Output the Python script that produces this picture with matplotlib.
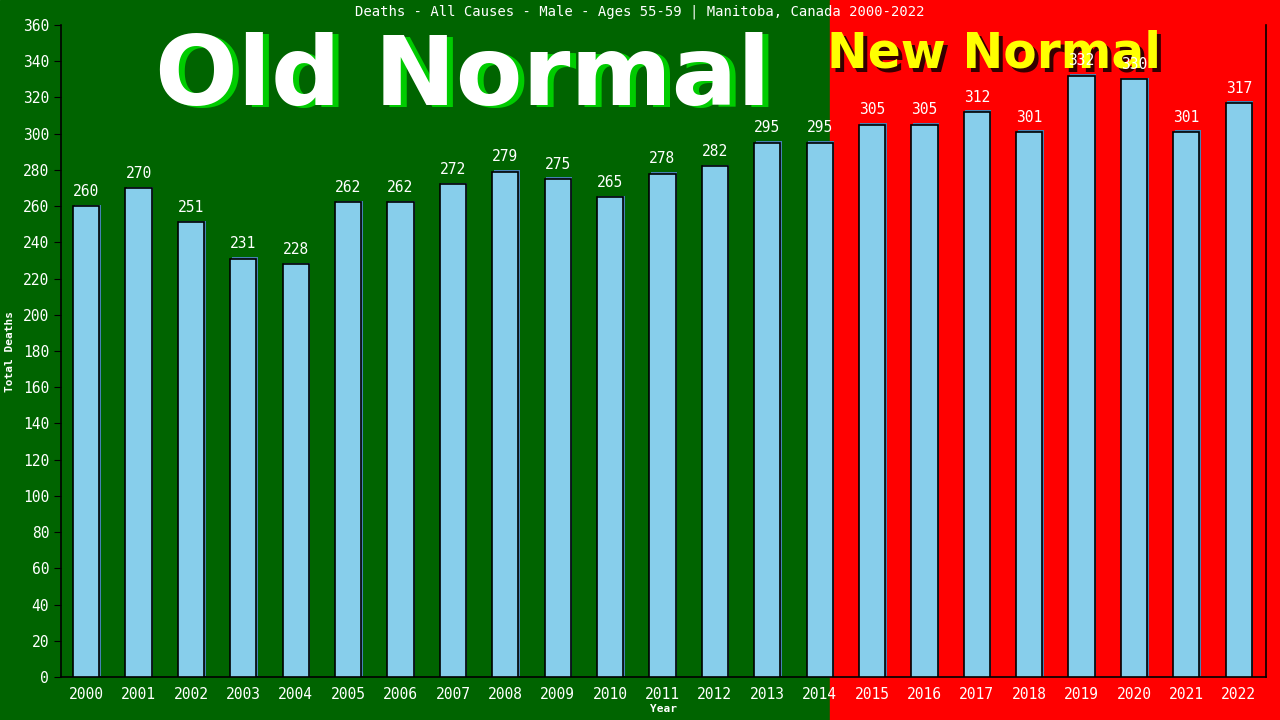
import matplotlib
matplotlib.use("Agg")
import matplotlib.pyplot as plt
import matplotlib.transforms as mtransforms
from matplotlib.patches import Rectangle

# data
years = [str(y) for y in range(2000, 2023)]
deaths = [260, 270, 251, 231, 228, 262, 262, 272, 279, 275, 265, 278,
          282, 295, 295, 305, 305, 312, 301, 332, 330, 301, 317]
yticks = list(range(0, 361, 20))

mono = "DejaVu Sans Mono"

fig = plt.figure(figsize=(12.8, 7.2), dpi=100)
# background: green for old normal, red for new normal
split = 830 / 1280
fig.patches.append(Rectangle((0, 0), split, 1, transform=fig.transFigure,
                             color="#006400", zorder=-10))
fig.patches.append(Rectangle((split, 0), 1 - split, 1, transform=fig.transFigure,
                             color="#ff0000", zorder=-10))

ax = fig.add_axes([61 / 1280, 43 / 720, 1205 / 1280, 652 / 720])
ax.set_facecolor("none")

x = list(range(len(years)))
# shadow bars slightly offset
sh = mtransforms.offset_copy(ax.transData, fig=fig, x=1.5, y=1.5, units="dots")
ax.bar(x, deaths, width=0.5, color="#4682b4", transform=sh, zorder=2)
ax.bar(x, deaths, width=0.5, color="#87ceeb", edgecolor="black", linewidth=1.2, zorder=3)

for xi, v in zip(x, deaths):
    ax.text(xi, v + 4, str(v), ha="center", va="bottom", color="white",
            fontsize=10.5, family=mono, zorder=5)

ax.set_xlim(-0.48, 22.52)
ax.set_ylim(0, 360)
ax.set_xticks(x)
ax.set_xticklabels(years, family=mono, fontsize=10.5, color="white")
ax.set_yticks(yticks)
ax.set_yticklabels([str(t) for t in yticks], family=mono, fontsize=10.5, color="white")
ax.tick_params(axis="y", length=5, color="black")
ax.tick_params(axis="x", length=0, pad=7)
for s in ["left", "bottom", "right"]:
    ax.spines[s].set_color("black")
    ax.spines[s].set_linewidth(1.2)
ax.spines["top"].set_visible(False)

ax.set_ylabel("Total Deaths", family=mono, fontsize=8, color="white", fontweight="bold", labelpad=6)
ax.set_xlabel("Year", family=mono, fontsize=8, color="white", fontweight="bold", labelpad=2)

fig.text(0.5, 1 - 12 / 720, "Deaths - All Causes - Male - Ages 55-59 | Manitoba, Canada 2000-2022",
         ha="center", va="center", color="white", fontsize=10, family=mono)

# big labels with shadows, kept under the axes so the value labels sit on top
t_old = mtransforms.offset_copy(fig.transFigure, fig=fig, x=6, y=-2, units="dots")
fig.text(463 / 1280, 1 - 78 / 720, "Old Normal", ha="center", va="center",
         fontsize=70, fontweight="bold", color="#00cc00", transform=t_old, zorder=-6)
fig.text(463 / 1280, 1 - 78 / 720, "Old Normal", ha="center", va="center",
         fontsize=70, fontweight="bold", color="white", zorder=-5)

t_new = mtransforms.offset_copy(fig.transFigure, fig=fig, x=4, y=-4, units="dots")
fig.text(994 / 1280, 1 - 53 / 720, "New Normal", ha="center", va="center",
         fontsize=35, fontweight="bold", color="#330000", transform=t_new, zorder=-6)
fig.text(994 / 1280, 1 - 53 / 720, "New Normal", ha="center", va="center",
         fontsize=35, fontweight="bold", color="#ffff00", zorder=-5)

fig.savefig("out.png", dpi=100)
